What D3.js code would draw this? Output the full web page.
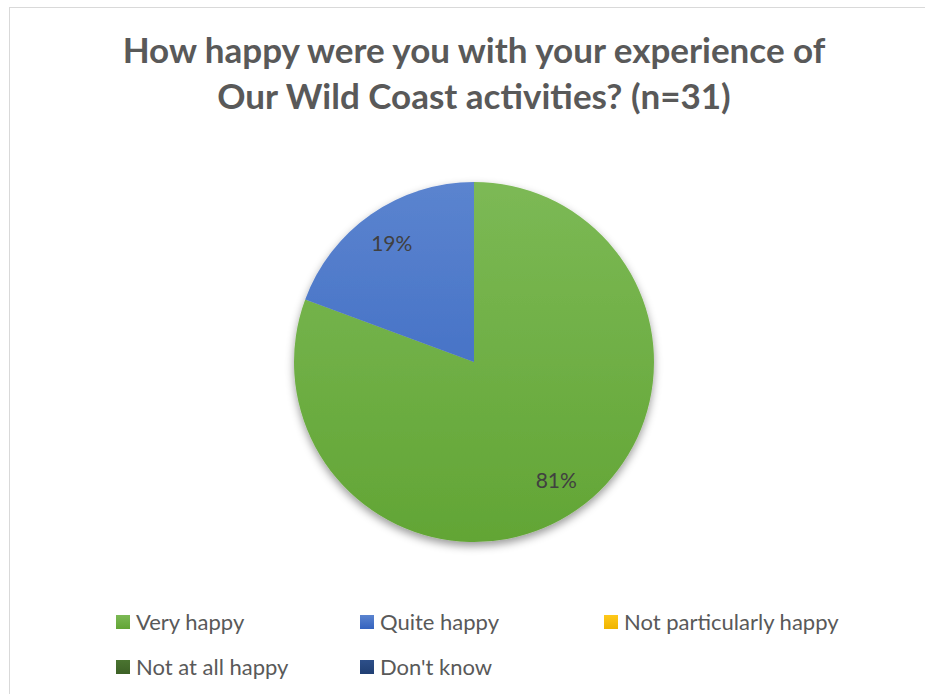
<!DOCTYPE html>
<html>
<head>
<meta charset="utf-8">
<script src="https://cdn.jsdelivr.net/npm/d3@7"></script>
<style>
  body { margin: 0; background: #fff; }
  svg { display: block; }
</style>
</head>
<body>
<div id="chart"></div>
<script>
let width = 925, height = 694;

// data (n=31)
let categories = ["Very happy", "Quite happy", "Not particularly happy", "Not at all happy", "Don't know"];
let counts = [25, 6, 0, 0, 0];
let colorsTop = ["#7cb955", "#5b84cf", "#ffc91a", "#4a7430", "#2d4f89"];
let colorsBottom = ["#62a535", "#3463bf", "#efb400", "#3d6126", "#203f73"];
let titleLines = ["How happy were you with your experience of", "Our Wild Coast activities? (n=31)"];

let cx = 474, cy = 362, r = 180;
let total = d3.sum(counts);

let svg = d3.select("#chart")
    .append("svg")
    .attr("width", width)
    .attr("height", height)
    .attr("viewBox", [0, 0, width, height]);

let defs = svg.append("defs");

// office-ish vertical gradients, spanning the whole pie
categories.forEach((c, i) => {
    let g = defs.append("linearGradient")
        .attr("id", "grad" + i)
        .attr("gradientUnits", "userSpaceOnUse")
        .attr("x1", 0).attr("y1", -r).attr("x2", 0).attr("y2", r);
    g.append("stop").attr("offset", "0%").attr("stop-color", colorsTop[i]);
    g.append("stop").attr("offset", "100%").attr("stop-color", colorsBottom[i]);

    let lg = defs.append("linearGradient")
        .attr("id", "lgrad" + i)
        .attr("x1", 0).attr("y1", 0).attr("x2", 0).attr("y2", 1);
    lg.append("stop").attr("offset", "0%").attr("stop-color", colorsTop[i]);
    lg.append("stop").attr("offset", "100%").attr("stop-color", colorsBottom[i]);
});

let shadow = defs.append("filter")
    .attr("id", "shadow")
    .attr("x", "-20%").attr("y", "-20%")
    .attr("width", "140%").attr("height", "140%");
shadow.append("feDropShadow")
    .attr("dx", 0).attr("dy", 4)
    .attr("stdDeviation", 4)
    .attr("flood-color", "#000")
    .attr("flood-opacity", 0.4);

// chart border
svg.append("rect")
    .attr("x", 9.5).attr("y", 7.5)
    .attr("width", width + 20).attr("height", height + 20)
    .attr("fill", "#fff")
    .attr("stroke", "#d9d9d9")
    .attr("stroke-width", 1);

// title
svg.append("g")
    .selectAll("text")
    .data(titleLines)
    .join("text")
    .attr("x", 474)
    .attr("y", (d, i) => 63 + i * 46)
    .attr("text-anchor", "middle")
    .attr("font-family", "Lato, 'Open Sans', sans-serif")
    .attr("font-weight", "bold")
    .attr("font-size", 35)
    .attr("fill", "#595959")
    .text(d => d);

let pie = d3.pie().sort(null).value(d => d.value);
let slices = pie(categories.map((c, i) => ({name: c, value: counts[i], i: i})))
    .filter(d => d.data.value > 0);
let arc = d3.arc().innerRadius(0).outerRadius(r);
let labelArc = d3.arc().innerRadius(r * 0.8).outerRadius(r * 0.8);

let pieG = svg.append("g")
    .attr("transform", `translate(${cx},${cy})`);

pieG.append("g")
    .attr("filter", "url(#shadow)")
    .selectAll("path")
    .data(slices)
    .join("path")
    .attr("d", arc)
    .attr("fill", d => `url(#grad${d.data.i})`);

pieG.append("g")
    .selectAll("text")
    .data(slices)
    .join("text")
    .attr("transform", d => `translate(${labelArc.centroid(d)})`)
    .attr("text-anchor", "middle")
    .attr("dy", "0.35em")
    .attr("font-family", "Lato, 'Open Sans', sans-serif")
    .attr("font-size", 21)
    .attr("fill", "#404040")
    .text(d => Math.round(d.data.value / total * 100) + "%");

// legend
let legend = svg.append("g")
    .selectAll("g")
    .data(categories)
    .join("g")
    .attr("transform", (d, i) => `translate(${116 + (i % 3) * 244},${615 + Math.floor(i / 3) * 45})`);

legend.append("rect")
    .attr("width", 14).attr("height", 14)
    .attr("fill", (d, i) => `url(#lgrad${i})`);

legend.append("text")
    .attr("x", 20)
    .attr("y", 15)
    .attr("font-family", "Lato, 'Open Sans', sans-serif")
    .attr("font-size", 22)
    .attr("fill", "#595959")
    .text(d => d);
</script>
</body>
</html>
